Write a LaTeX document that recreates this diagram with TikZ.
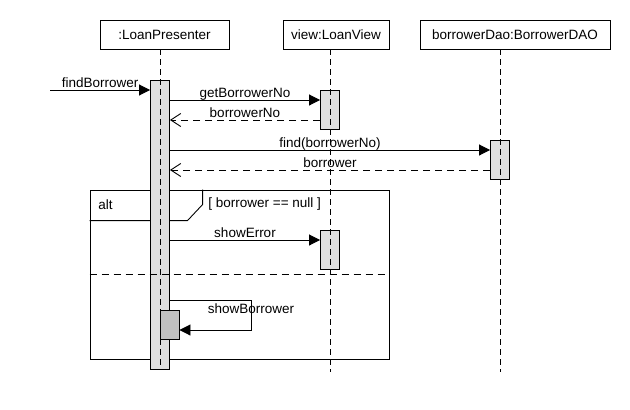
\documentclass[tikz,border=0pt]{standalone}
\usepackage{fontspec}
\setmainfont{Liberation Sans}
\usetikzlibrary{arrows.meta}

\begin{document}
\begin{tikzpicture}[x=1pt,y=-1pt,line width=0.9pt,font=\fontsize{13.5}{15}\selectfont,
  head/.style={draw,minimum height=29pt,inner sep=0pt},
  bar/.style={draw,fill=black!12,minimum width=19pt,inner sep=0pt},
  life/.style={dash pattern=on 6pt off 4pt},
  call/.style={-{Triangle[length=11pt,width=11pt]}},
  reply/.style={dash pattern=on 7pt off 5pt,-{Straight Barb[length=10pt,width=13pt]}},
  lbl/.style={midway,anchor=base,yshift=3pt,inner sep=0pt}]
\useasboundingbox (0,0) rectangle (630,410);
% lifeline heads
\node[head,minimum width=129pt] (presenter) at (164.5,34.5) {:LoanPresenter};
\node[head,minimum width=106pt] (view) at (336,34.5) {view:LoanView};
\node[head,minimum width=190pt] (dao) at (515,34.5) {borrowerDao:BorrowerDAO};
% alt fragment
\node[draw,minimum width=299pt,minimum height=169pt,inner sep=0pt] (alt) at (239.5,274.5) {};
\draw ([yshift=-31pt]alt.north west) -- ++(98,0) -- ++(15,-16) -- ++(0,-15);
\node[anchor=west,inner sep=0pt] (altLbl) at (98,205) {alt};
\node[anchor=west,inner sep=0pt] (guard) at (208,204) {[ borrower == null ]};
% activations
\node[bar,minimum height=289pt] (presAct) at (160,224.5) {};
\node[bar,minimum height=39pt] (viewAct1) at (330,109.5) {};
\node[bar,minimum height=39pt] (daoAct) at (500,159.5) {};
\node[bar,minimum height=39pt] (viewAct2) at (330,249.5) {};
\node[bar,fill=black!25,minimum height=29pt] (selfAct) at (169.5,324.5) {};
% lifelines
\draw[life] (presAct.center |- presenter.south) -- (presAct.south);
\draw[life] (viewAct1.center |- view.south) -- ([yshift=-3pt]viewAct1.center |- presAct.south);
\draw[life] (daoAct.center |- dao.south) -- ([yshift=-3pt]daoAct.center |- presAct.south);
% message levels
\coordinate (caller) at (50,90);
\coordinate (m1) at (0,100);
\coordinate (m2) at (0,120);
\coordinate (m3) at (0,150);
\coordinate (m4) at (0,170);
\coordinate (m5) at (0,240);
\coordinate (split) at (0,274);
\coordinate (m6) at (0,300);
\coordinate (m7) at (0,330);
\draw[call] (caller) -- (presAct.west |- caller) node[lbl]{findBorrower};
\draw[call] (presAct.east |- m1) -- (viewAct1.west |- m1) node[lbl]{getBorrowerNo};
\draw[reply] (viewAct1.west |- m2) -- (presAct.east |- m2) node[lbl]{borrowerNo};
\draw[call] (presAct.east |- m3) -- (daoAct.west |- m3) node[lbl]{find(borrowerNo)};
\draw[reply] (daoAct.west |- m4) -- (presAct.east |- m4) node[lbl]{borrower};
\draw[call] (presAct.east |- m5) -- (viewAct2.west |- m5) node[lbl]{showError};
\draw[dash pattern=on 7pt off 5pt] (alt.west |- split) -- (alt.east |- split);
\draw[call] (presAct.east |- m6) -- ++(81,0) node[anchor=north,yshift=-3pt,inner sep=0pt]{showBorrower} -- ++(0,30) -- (selfAct.east |- m7);
\end{tikzpicture}
\end{document}
